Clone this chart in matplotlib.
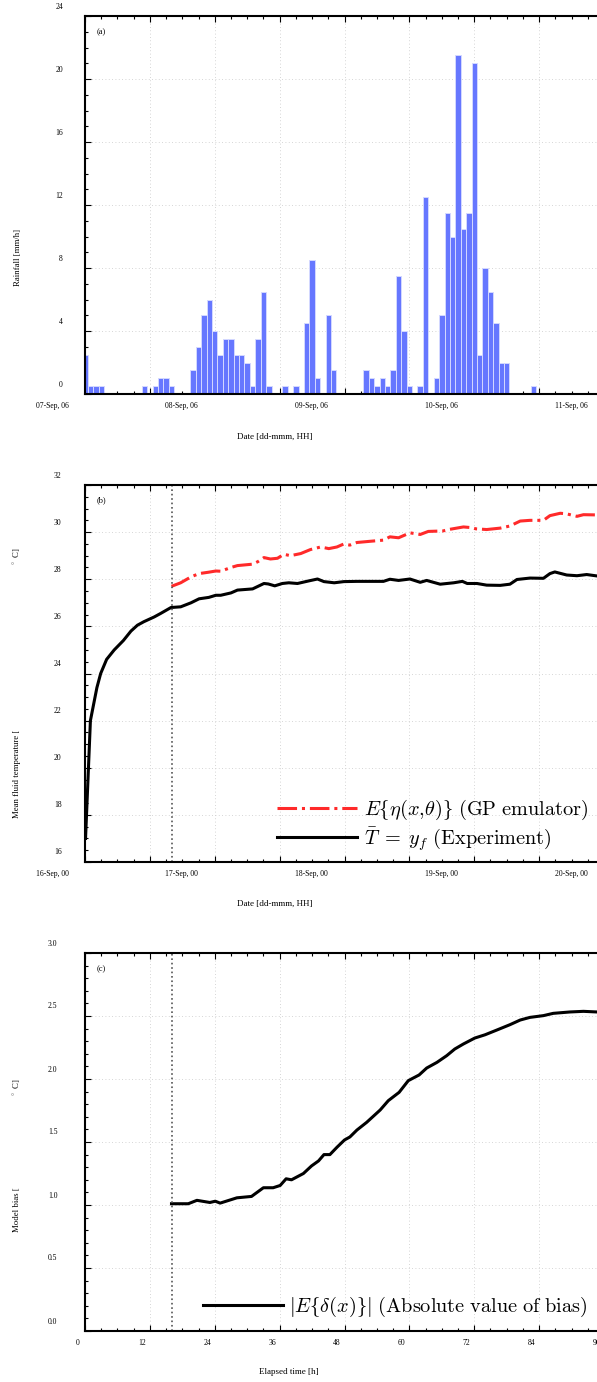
import matplotlib
matplotlib.use('Agg')
import matplotlib.pyplot as plt
from matplotlib.ticker import MultipleLocator
from matplotlib.transforms import ScaledTranslation

plt.rcParams['font.family'] = ['Liberation Serif', 'DejaVu Serif']
plt.rcParams['mathtext.fontset'] = 'cm'

# ---- data -------------------------------------------------------------
# panel (a): hourly rainfall [mm/h], hour 0 = 07-Sep 00h
rain_mm = [2.5, 0.5, 0.5, 0.5, 0, 0, 0, 0, 0, 0,
           0, 0.5, 0, 0.5, 1.0, 1.0, 0.5, 0, 0, 0,
           1.5, 3.0, 5.0, 6.0, 4.0, 2.5, 3.5, 3.5, 2.5, 2.5,
           2.0, 0.5, 3.5, 6.5, 0.5, 0, 0, 0.5, 0, 0.5,
           0, 4.5, 8.5, 1.0, 0, 5.0, 1.5, 0, 0, 0,
           0, 0, 1.5, 1.0, 0.5, 1.0, 0.5, 1.5, 7.5, 4.0,
           0.5, 0, 0.5, 12.5, 0, 1.0, 5.0, 11.5, 10.0, 21.5,
           10.5, 11.5, 21.0, 2.5, 8.0, 6.5, 4.5, 2.0, 2.0, 0,
           0, 0, 0, 0.5]
rain_hours = list(range(len(rain_mm)))

# panel (b): mean fluid temperature [C]
exp_hours = [0.1, 1.0, 2.2, 2.9, 4.0, 5.4, 7.1, 8.5, 9.7, 10.9, 12.8, 14.0, 15.9,
             17.7, 19.6, 21.1, 22.9, 24.2, 25.1, 27.0, 28.2, 31.0, 33.1, 33.9,
             35.1, 36.5, 37.7, 39.3, 41.4, 43.0, 44.2, 46.1, 47.9, 50.3, 55.2,
             56.4, 58.0, 60.1, 62.0, 63.2, 65.7, 68.2, 69.8, 70.7, 72.5, 74.3,
             76.8, 78.6, 79.9, 82.3, 84.8, 86.0, 86.9, 89.1, 91.0, 92.8, 94.7, 96.0]
exp_temp = [17.0, 22.0, 23.4, 24.0, 24.6, 25.0, 25.4, 25.8, 26.05, 26.2, 26.4, 26.55, 26.8,
            26.83, 27.0, 27.17, 27.23, 27.32, 27.32, 27.42, 27.54, 27.59, 27.82, 27.8,
            27.72, 27.82, 27.85, 27.82, 27.93, 28.01, 27.9, 27.85, 27.9, 27.91, 27.91,
            28.0, 27.95, 28.01, 27.87, 27.95, 27.79, 27.85, 27.91, 27.82, 27.82, 27.75,
            27.74, 27.79, 27.99, 28.05, 28.04, 28.24, 28.31, 28.18, 28.15, 28.2, 28.14, 28.12]

gp_hours = [16.0, 17.7, 19.6, 21.1, 22.9, 24.2, 25.1, 27.0, 28.2, 31.0, 32.0, 33.1,
            34.3, 35.6, 36.8, 38.0, 39.9, 41.7, 43.6, 45.1, 46.6, 47.8, 49.0, 50.3,
            52.7, 55.2, 56.4, 58.0, 60.1, 62.0, 63.5, 66.2, 67.5, 70.0, 71.5, 72.3,
            74.3, 76.8, 78.6, 80.5, 82.3, 84.8, 86.0, 87.9, 89.0, 91.0, 92.2, 94.7, 96.0]
gp_temp = [27.7, 27.85, 28.1, 28.24, 28.3, 28.35, 28.34, 28.5, 28.58, 28.64, 28.75, 28.92,
           28.86, 28.89, 29.06, 29.0, 29.09, 29.26, 29.37, 29.3, 29.37, 29.49, 29.45, 29.56,
           29.61, 29.66, 29.8, 29.76, 29.97, 29.9, 30.03, 30.05, 30.12, 30.22, 30.19, 30.14,
           30.11, 30.17, 30.26, 30.47, 30.5, 30.5, 30.7, 30.8, 30.78, 30.67, 30.74, 30.73, 30.72]

# panel (c): absolute model bias [C]
bias_hours = [16.0, 19.1, 20.7, 23.1, 24.1, 25.0, 28.1, 30.8, 33.0, 34.8, 36.1, 37.2,
              38.2, 40.4, 41.9, 43.2, 44.2, 45.3, 46.6, 48.0, 49.0, 50.3, 52.1, 54.6,
              56.1, 58.1, 59.8, 61.8, 63.2, 65.1, 66.9, 68.4, 70.0, 72.1, 74.0, 76.2,
              78.6, 80.5, 82.3, 84.8, 86.6, 89.7, 92.2, 94.7, 96.0]
bias_val = [1.01, 1.01, 1.037, 1.02, 1.03, 1.015, 1.057, 1.068, 1.137, 1.137, 1.155, 1.208,
            1.20, 1.25, 1.31, 1.35, 1.40, 1.40, 1.458, 1.516, 1.54, 1.595, 1.656, 1.754,
            1.828, 1.894, 1.987, 2.032, 2.087, 2.132, 2.185, 2.238, 2.278, 2.325, 2.351, 2.389,
            2.431, 2.468, 2.489, 2.503, 2.521, 2.532, 2.537, 2.532, 2.53]

calib_start = 16  # h, start of the calibration window

day_ticks = [0, 24, 48, 72, 96]
rain_day_labels = ['07-Sep, 06', '08-Sep, 06', '09-Sep, 06', '10-Sep, 06', '11-Sep, 06']
temp_day_labels = ['16-Sep, 00', '17-Sep, 00', '18-Sep, 00', '19-Sep, 00', '20-Sep, 00']
elapsed_ticks = [0, 12, 24, 36, 48, 60, 72, 84, 96]
elapsed_labels = ['0', '12', '24', '36', '48', '60', '72', '84', '96']
rain_yticks = [0, 4, 8, 12, 16, 20, 24]
temp_yticks = [16, 18, 20, 22, 24, 26, 28, 30, 32]
bias_yticks = [0.0, 0.5, 1.0, 1.5, 2.0, 2.5, 3.0]

# ---- figure -----------------------------------------------------------
W, H = 597, 1382
fig = plt.figure(figsize=(W / 100, H / 100), dpi=100)


def px_axes(left, top, right, bottom):
    return fig.add_axes([left / W, 1 - bottom / H, (right - left) / W, (bottom - top) / H])


def fpx(x, y):
    return x / W, 1 - y / H


def style(ax, ymajor, yminor):
    for s in ax.spines.values():
        s.set_linewidth(1.5)
    ax.xaxis.set_major_locator(MultipleLocator(12))
    ax.xaxis.set_minor_locator(MultipleLocator(3))
    ax.yaxis.set_major_locator(MultipleLocator(ymajor))
    ax.yaxis.set_minor_locator(MultipleLocator(yminor))
    ax.tick_params(which='both', direction='in', top=True, right=True,
                   labelbottom=False, labelleft=False, width=0.8)
    ax.tick_params(which='major', length=4)
    ax.tick_params(which='minor', length=2.5)
    ax.grid(True, which='major', linestyle=(0, (1, 3)), color='#c8c8c8', linewidth=0.6)
    ax.set_axisbelow(True)
    ax.set_xlim(0, 96)


def xlabels(ax, pos, labels, dx):
    off = ScaledTranslation(dx / 100, -12 / 100, fig.dpi_scale_trans)
    for p, s in zip(pos, labels):
        ax.text(p, 0, s, transform=ax.get_xaxis_transform() + off, ha='center',
                va='center', fontsize=5.5, clip_on=False)


def ylabels(ax, pos, labels, dx):
    off = ScaledTranslation(dx / 100, 9.5 / 100, fig.dpi_scale_trans)
    for p, s in zip(pos, labels):
        ax.text(0, p, s, transform=ax.get_yaxis_transform() + off, ha='right',
                va='center', fontsize=5.5, clip_on=False)


LEG = dict(bbox_transform=fig.transFigure, frameon=False, fontsize=14.6,
           handlelength=3.95, handletextpad=0.33, borderpad=0, borderaxespad=0,
           loc='lower right')

# (a) rainfall
ax1 = px_axes(85, 16, 604, 394)
ax1.bar(rain_hours, rain_mm, width=1.0, color='#6677ff', edgecolor='#d4d8ff', linewidth=0.7)
ax1.set_ylim(0, 24)
style(ax1, 4, 1)
xlabels(ax1, day_ticks, rain_day_labels, -33)
ylabels(ax1, rain_yticks, [str(v) for v in rain_yticks], -22)
fig.text(*fpx(101, 32), '(a)', fontsize=6, ha='center', va='center')
fig.text(*fpx(18, 258), 'Rainfall [mm/h]', rotation=90, fontsize=6.3, ha='center', va='center')
fig.text(*fpx(275, 437), 'Date [dd-mmm, HH]', fontsize=6.5, ha='center', va='center')

# (b) temperatures
ax2 = px_axes(85, 485, 604, 862)
ax2.plot(gp_hours, gp_temp, color='#ff2a2a', linestyle='-.', linewidth=2.2,
         label=r'$E\lbrace\eta(x,\!\theta)\rbrace\ \mathrm{(GP\ emulator)}$')
ax2.plot(exp_hours, exp_temp, color='black', linewidth=2.2,
         label=r'$\bar{T}\;=\;y_f\ \mathrm{(Experiment)}$')
ax2.axvline(calib_start, color='#555555', linestyle=':', linewidth=1.2)
ax2.set_ylim(16, 32)
style(ax2, 2, 0.5)
xlabels(ax2, day_ticks, temp_day_labels, -33)
ylabels(ax2, temp_yticks, [str(v) for v in temp_yticks], -23.3)
ax2.legend(bbox_to_anchor=fpx(588, 853), labelspacing=0.15, **LEG)
fig.text(*fpx(101, 500), '(b)', fontsize=6, ha='center', va='center')
fig.text(*fpx(17, 774), 'Mean fluid temperature [', rotation=90, fontsize=6.3,
         ha='center', va='center')
fig.text(*fpx(17, 557), r'$^\circ$ C]', rotation=90, fontsize=6.3, ha='center', va='center')
fig.text(*fpx(275, 904), 'Date [dd-mmm, HH]', fontsize=6.5, ha='center', va='center')

# (c) model bias
ax3 = px_axes(85, 953, 604, 1331)
ax3.plot(bias_hours, bias_val, color='black', linewidth=2.2,
         label=r'$|E\lbrace\delta(x)\rbrace|\ \mathrm{(Absolute\ value\ of\ bias)}$')
ax3.axvline(calib_start, color='#555555', linestyle=':', linewidth=1.2)
ax3.set_ylim(0, 3)
style(ax3, 0.5, 0.1)
xlabels(ax3, elapsed_ticks, elapsed_labels, -7.5)
ylabels(ax3, bias_yticks, ['%.1f' % v for v in bias_yticks], -27.7)
ax3.legend(bbox_to_anchor=fpx(588, 1319), **LEG)
fig.text(*fpx(101, 969), '(c)', fontsize=6, ha='center', va='center')
fig.text(*fpx(17, 1210), 'Model bias [', rotation=90, fontsize=6.3, ha='center', va='center')
fig.text(*fpx(17, 1088), r'$^\circ$ C]', rotation=90, fontsize=6.3, ha='center', va='center')
fig.text(*fpx(289, 1372), 'Elapsed time [h]', fontsize=6.5, ha='center', va='center')

fig.savefig('out.png', dpi=100)
